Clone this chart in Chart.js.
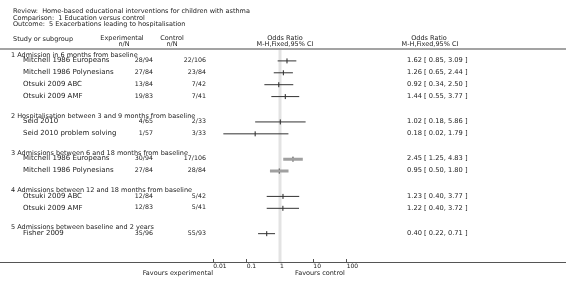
<!DOCTYPE html>
<html>
<head>
<meta charset="utf-8">
<script src="https://cdn.jsdelivr.net/npm/chart.js@4.4.1/dist/chart.umd.min.js"></script>
<style>
  body { margin: 0; background: #fff; }
  #wrap { width: 566px; height: 292px; }
</style>
</head>
<body>
<div id="wrap"><canvas id="forestChart"></canvas></div>
<script>
// Forest plot data
const titleLines = [
  'Review:  Home-based educational interventions for children with asthma',
  'Comparison:  1 Education versus control',
  'Outcome:  5 Exacerbations leading to hospitalisation'
];
const groupTitles = [
  '1 Admission in 6 months from baseline',
  '2 Hospitalisation between 3 and 9 months from baseline',
  '3 Admissions between 6 and 18 months from baseline',
  '4 Admissions between 12 and 18 months from baseline',
  '5 Admissions between baseline and 2 years'
];
const groupSizes = [4, 2, 2, 2, 1];
const studyNames = [
  'Mitchell 1986 Europeans', 'Mitchell 1986 Polynesians', 'Otsuki 2009 ABC', 'Otsuki 2009 AMF',
  'Seid 2010', 'Seid 2010 problem solving',
  'Mitchell 1986 Europeans', 'Mitchell 1986 Polynesians',
  'Otsuki 2009 ABC', 'Otsuki 2009 AMF',
  'Fisher 2009'
];
const expEvents = ['28/94', '27/84', '13/84', '19/83', '4/65', '1/57', '30/94', '27/84', '12/84', '12/83', '35/96'];
const ctrlEvents = ['22/106', '23/84', '7/42', '7/41', '2/33', '3/33', '17/106', '28/84', '5/42', '5/41', '55/93'];
const oddsRatio = [1.62, 1.26, 0.92, 1.44, 1.02, 0.18, 2.45, 0.95, 1.23, 1.22, 0.40];
const ciLow = [0.85, 0.65, 0.34, 0.55, 0.18, 0.02, 1.25, 0.50, 0.40, 0.40, 0.22];
const ciHigh = [3.09, 2.44, 2.50, 3.77, 5.86, 1.79, 4.83, 1.80, 3.77, 3.72, 0.71];
const tickValues = [0.01, 0.1, 1, 10, 100];

const GROUP_GAP = 1.13;
const FONT = '"DejaVu Sans", Verdana, sans-serif';

// which group each study belongs to, and its row position
const groupOf = [];
groupSizes.forEach((n, g) => { for (let k = 0; k < n; k++) groupOf.push(g); });
const rowPos = studyNames.map((_, i) => i + groupOf[i] * GROUP_GAP);
const groupStart = groupSizes.map((_, g) => groupOf.indexOf(g));

const fmt = v => v.toFixed(2);

const ciDatasets = studyNames.map((name, i) => ({
  type: 'line',
  label: name,
  data: [{ x: ciLow[i], y: rowPos[i] }, { x: ciHigh[i], y: rowPos[i] }],
  borderColor: groupOf[i] === 2 ? '#a0a0a0' : '#333',
  borderWidth: groupOf[i] === 2 ? 3 : 1,
  pointRadius: 0,
  fill: false
}));

const pointDataset = {
  type: 'scatter',
  label: 'Odds ratio',
  data: oddsRatio.map((v, i) => ({ x: v, y: rowPos[i] })),
  pointStyle: 'line',
  rotation: 90,
  radius: 2.5,
  borderColor: '#222',
  borderWidth: 1
};

const textPlugin = {
  id: 'forestText',
  beforeDatasetsDraw(chart) {
    const ctx = chart.ctx;
    const x = chart.scales.x;
    const area = chart.chartArea;
    const x1 = Math.round(x.getPixelForValue(1));
    ctx.save();
    ctx.strokeStyle = '#e3e3e3';
    ctx.lineWidth = 3;
    ctx.beginPath();
    ctx.moveTo(x1, 49);
    ctx.lineTo(x1, area.bottom + 3);
    ctx.stroke();
    ctx.restore();
  },
  afterDraw(chart) {
    const ctx = chart.ctx;
    const y = chart.scales.y;
    const area = chart.chartArea;
    ctx.save();
    ctx.textBaseline = 'middle';
    ctx.fillStyle = '#222';

    // title block
    ctx.font = '6.5px ' + FONT;
    ctx.textAlign = 'left';
    titleLines.forEach((t, i) => ctx.fillText(t, 13, 11.5 + i * 6.5));

    // column headers
    ctx.fillText('Study or subgroup', 13, 39);
    ctx.textAlign = 'center';
    ctx.fillText('Experimental', 122, 38.5);
    ctx.fillText('n/N', 124, 44.5);
    ctx.fillText('Control', 172, 38.5);
    ctx.fillText('n/N', 172, 44.5);
    ctx.fillText('Odds Ratio', 285, 38.5);
    ctx.fillText('M-H,Fixed,95% CI', 285, 44.5);
    ctx.fillText('Odds Ratio', 429, 38.5);
    ctx.fillText('M-H,Fixed,95% CI', 430, 44.5);

    // separator lines
    ctx.strokeStyle = '#a3a3a3';
    ctx.lineWidth = 2;
    ctx.beginPath();
    ctx.moveTo(0, 49);
    ctx.lineTo(566, 49);
    ctx.stroke();
    ctx.strokeStyle = '#555';
    ctx.lineWidth = 1;
    ctx.beginPath();
    ctx.moveTo(0, area.bottom + 3.5);
    ctx.lineTo(566, area.bottom + 3.5);
    ctx.stroke();

    // group titles
    ctx.textAlign = 'left';
    groupTitles.forEach((t, g) => {
      ctx.fillText(t, 11, y.getPixelForValue(rowPos[groupStart[g]]) - 6);
    });

    // study rows
    studyNames.forEach((name, i) => {
      const py = y.getPixelForValue(rowPos[i]) - 0.5;
      ctx.textAlign = 'left';
      ctx.font = '7px ' + FONT;
      ctx.fillText(name, 23, py);
      ctx.font = '6.3px ' + FONT;
      ctx.textAlign = 'right';
      ctx.fillText(expEvents[i], 153, py);
      ctx.fillText(ctrlEvents[i], 206, py);
      ctx.textAlign = 'left';
      ctx.font = '6.7px ' + FONT;
      ctx.fillText(fmt(oddsRatio[i]) + ' [ ' + fmt(ciLow[i]) + ', ' + fmt(ciHigh[i]) + ' ]', 407, py);
    });

    // favours labels
    ctx.font = '6.5px ' + FONT;
    ctx.textAlign = 'right';
    ctx.fillText('Favours experimental', 213, 273);
    ctx.textAlign = 'left';
    ctx.fillText('Favours control', 295, 273);
    ctx.restore();
  }
};

const forestCtx = document.getElementById('forestChart').getContext('2d');

const forestChart = new Chart(forestCtx, {
  type: 'scatter',
  data: { datasets: [...ciDatasets, pointDataset] },
  options: {
    responsive: true,
    maintainAspectRatio: false,
    animation: false,
    events: [],
    layout: { padding: { left: 213.3, right: 219.3, top: 49, bottom: 19 } },
    plugins: { legend: { display: false }, tooltip: { enabled: false } },
    scales: {
      x: {
        type: 'logarithmic',
        min: 0.01,
        max: 100,
        afterBuildTicks: scale => { scale.ticks = tickValues.map(v => ({ value: v })); },
        afterFit: scale => { scale.height = 14; },
        border: { display: false },
        grid: { drawOnChartArea: false, drawTicks: true, tickLength: 3, color: '#555' },
        ticks: {
          align: 'start',
          autoSkip: false,
          maxRotation: 0,
          padding: 1,
          color: '#222',
          font: { family: FONT, size: 6 },
          callback: v => String(v)
        }
      },
      y: {
        type: 'linear',
        display: false,
        reverse: true,
        min: -1,
        max: 16.65
      }
    }
  },
  plugins: [textPlugin]
});
</script>
</body>
</html>
